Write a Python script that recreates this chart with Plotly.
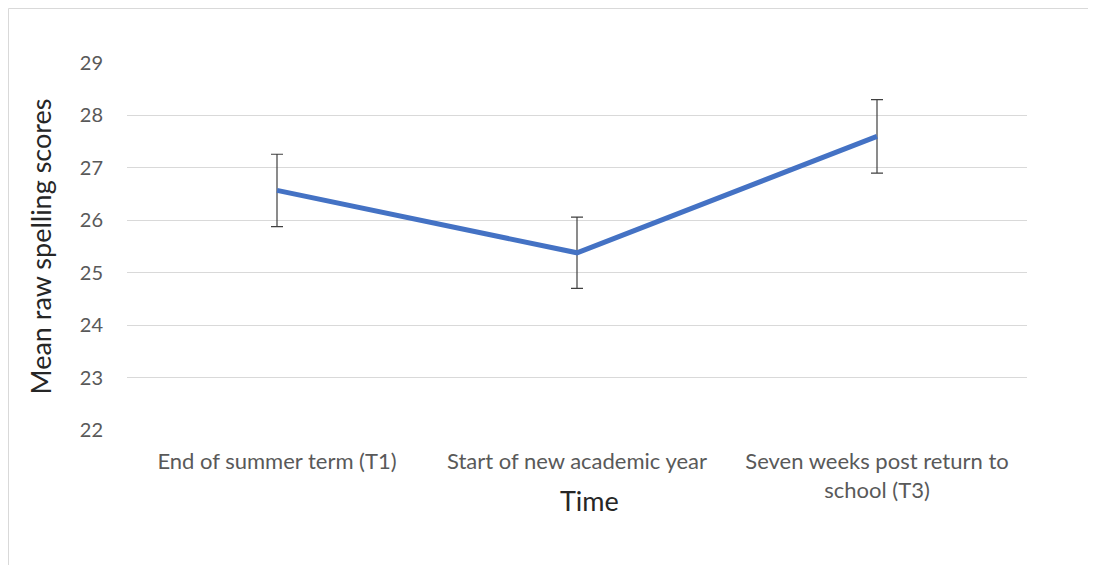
import plotly.graph_objects as go

categories = ["End of summer term (T1)", "Start of new academic year", "Seven weeks post return to<br>school (T3)"]
means = [26.57, 25.38, 27.60]
errors = [0.69, 0.68, 0.70]
y_ticks = [22, 23, 24, 25, 26, 27, 28, 29]

FONT = "Lato"

fig = go.Figure()
fig.add_trace(go.Scatter(
    x=categories, y=means, mode="lines",
    line=dict(color="#4472C4", width=5),
    error_y=dict(type="data", array=errors, visible=True, color="#404040", thickness=1.2, width=6),
    showlegend=False, hoverinfo="skip",
))

# page has an 8px body margin
L, R, T, B = 119, 69, 55, 135
W, H = 1088, 557
pw, ph = W - L - R, H - T - B
bx = (0.5 - L) / pw
by = 1 + (T - 0.5) / ph

fig.update_layout(
    width=W, height=H,
    margin=dict(l=L, r=R, t=T, b=B, pad=0),
    paper_bgcolor="white", plot_bgcolor="white",
    font=dict(family=FONT, color="#595959"),
    xaxis=dict(
        type="category", range=[-0.5, 2.5], showgrid=False, zeroline=False,
        showline=False, ticks="", tickfont=dict(size=22, color="#595959"),
        ticklabelstandoff=16,
    ),
    yaxis=dict(
        range=[22, 29], tickvals=y_ticks, showgrid=True, gridcolor="#d9d9d9", gridwidth=1.3,
        zeroline=False, showline=False, ticks="", tickfont=dict(size=20, color="#595959"),
        ticklabelstandoff=23,
        title=dict(text="Mean raw spelling scores", font=dict(size=27, color="#262626"), standoff=20),
    ),
    annotations=[
        dict(text="Time", xref="paper", yref="paper", x=0.5 + 12 / pw, y=-70 / ph,
             xanchor="center", yanchor="middle", showarrow=False,
             font=dict(size=27, color="#262626", family=FONT)),
    ],
    shapes=[
        dict(type="line", xref="paper", yref="paper", x0=bx, x1=bx, y0=by, y1=-1,
             line=dict(color="#d9d9d9", width=1)),
        dict(type="line", xref="paper", yref="paper", x0=bx, x1=1.2, y0=by, y1=by,
             line=dict(color="#d9d9d9", width=1)),
    ],
)

fig.write_html("out.html")
